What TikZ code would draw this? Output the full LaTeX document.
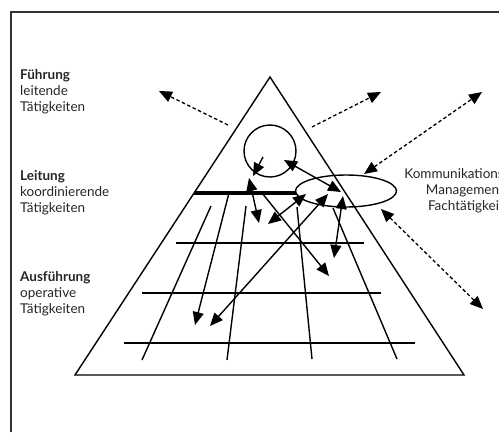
\documentclass[tikz,border=0pt]{standalone}
\usepackage{fontspec}
\setmainfont{Lato}
\usetikzlibrary{arrows.meta,shapes.geometric}
\begin{document}
\begin{tikzpicture}[x=1pt,y=-1pt,
  lbl/.style={inner sep=0pt, font=\fontsize{13.5}{16}\selectfont, text=black!85},
  hd/.style={-{Triangle[length=13pt,width=11pt]}},
  dhd/.style={{Triangle[length=13pt,width=11pt]}-{Triangle[length=13pt,width=11pt]}},
  dsh/.style={dash pattern=on 3.5pt off 2.5pt, line width=1.3pt},
  gl/.style={line width=1.4pt},
  frm/.style={line width=1.6pt, draw=black!80},
 ]
\useasboundingbox (0,0) rectangle (499,432);
% frame
\coordinate (f1) at (11,432);
\coordinate (f2) at (11,12);
\coordinate (f3) at (505,12);
\draw[frm] (f1) -- (f2) -- (f3);

% triangle
\coordinate (apex) at (270,77);
\coordinate (bl) at (75,375);
\coordinate (br) at (464,375);
\draw[gl, line join=miter] (apex) -- (bl) -- (br) -- cycle;

% circle and ellipse
\node[circle, draw, line width=1.4pt, minimum size=52pt, inner sep=0pt] (C) at (270,151) {};
\node[ellipse, draw, line width=1.4pt, minimum width=101pt, minimum height=32pt, inner sep=0pt] (E) at (346,191) {};

% thick Leitung line
\coordinate (t1) at (194,193);
\coordinate (t2) at (296,193);
\draw[line width=3.8pt] (t1) -- (t2);

% horizontal grid lines
\coordinate (h1a) at (176,243); \coordinate (h1b) at (364,243);
\coordinate (h2a) at (142,293); \coordinate (h2b) at (381,293);
\coordinate (h3a) at (124,343); \coordinate (h3b) at (415,343);
\draw[gl] (h1a) -- (h1b);
\draw[gl] (h2a) -- (h2b);
\draw[gl] (h3a) -- (h3b);

% rays
\coordinate (r1a) at (211,206); \coordinate (r1b) at (142,360);
\coordinate (r2a) at (246,206); \coordinate (r2b) at (227,360);
\coordinate (r3a) at (297,207); \coordinate (r3b) at (312,359);
\coordinate (r4a) at (333,208); \coordinate (r4b) at (397,359);
\draw[gl] (r1a) -- (r1b);
\draw[gl] (r2a) -- (r2b);
\draw[gl] (r3a) -- (r3b);
\draw[gl] (r4a) -- (r4b);

% solid arrows
\coordinate (a1s) at (229,193); \coordinate (a1e) at (195,325);
\draw[gl,hd] (a1s) -- (a1e);
\coordinate (a2s) at (210,326); \coordinate (a2e) at (328,194);
\draw[gl,dhd] (a2s) -- (a2e);
\coordinate (a3s) at (262,193); \coordinate (a3e) at (329,276);
\draw[gl,hd] (a3s) -- (a3e);
\coordinate (a4s) at (334,258); \coordinate (a4e) at (343,196);
\draw[gl,dhd] (a4s) -- (a4e);
\coordinate (a5s) at (249,178); \coordinate (a5e) at (259,223);
\draw[gl,dhd] (a5s) -- (a5e);
\coordinate (a6s) at (268,224); \coordinate (a6e) at (306,194);
\draw[gl,dhd] (a6s) -- (a6e);
\coordinate (a7s) at (284,160); \coordinate (a7e) at (341,192);
\draw[gl,dhd] (a7s) -- (a7e);
\coordinate (a8s) at (263,157); \coordinate (a8e) at (253,176);
\draw[gl,hd] (a8s) -- (a8e);

% dashed arrows
\coordinate (d1s) at (228,125); \coordinate (d1e) at (159,91);
\draw[dsh,hd] (d1s) -- (d1e);
\coordinate (d2s) at (312,127); \coordinate (d2e) at (381,92);
\draw[dsh,hd] (d2s) -- (d2e);
\coordinate (d3s) at (364,174); \coordinate (d3e) at (482,92);
\draw[dsh,dhd] (d3s) -- (d3e);
\coordinate (d4s) at (381,209); \coordinate (d4e) at (483,309);
\draw[dsh,dhd] (d4s) -- (d4e);

% left labels
\node[lbl, anchor=base west] (l1) at (20,79) {\textbf{Führung}};
\node[lbl, anchor=base west] (l2) at (20,95) {leitende};
\node[lbl, anchor=base west] (l3) at (20,111) {Tätigkeiten};
\node[lbl, anchor=base west] (l4) at (20,180) {\textbf{Leitung}};
\node[lbl, anchor=base west] (l5) at (20,196) {koordinierende};
\node[lbl, anchor=base west] (l6) at (20,212) {Tätigkeiten};
\node[lbl, anchor=base west] (l7) at (20,281) {\textbf{Ausführung}};
\node[lbl, anchor=base west] (l8) at (20,297) {operative};
\node[lbl, anchor=base west] (l9) at (20,313) {Tätigkeiten};

% right labels (cut at the right edge, as in the reference)
\node[lbl, anchor=base east] (k1) at (504,178) {Kommunikations};
\node[lbl, anchor=base east] (k2) at (504,194) {Management};
\node[lbl, anchor=base east] (k3) at (504,210) {Fachtätigkeit};
\end{tikzpicture}
\end{document}
